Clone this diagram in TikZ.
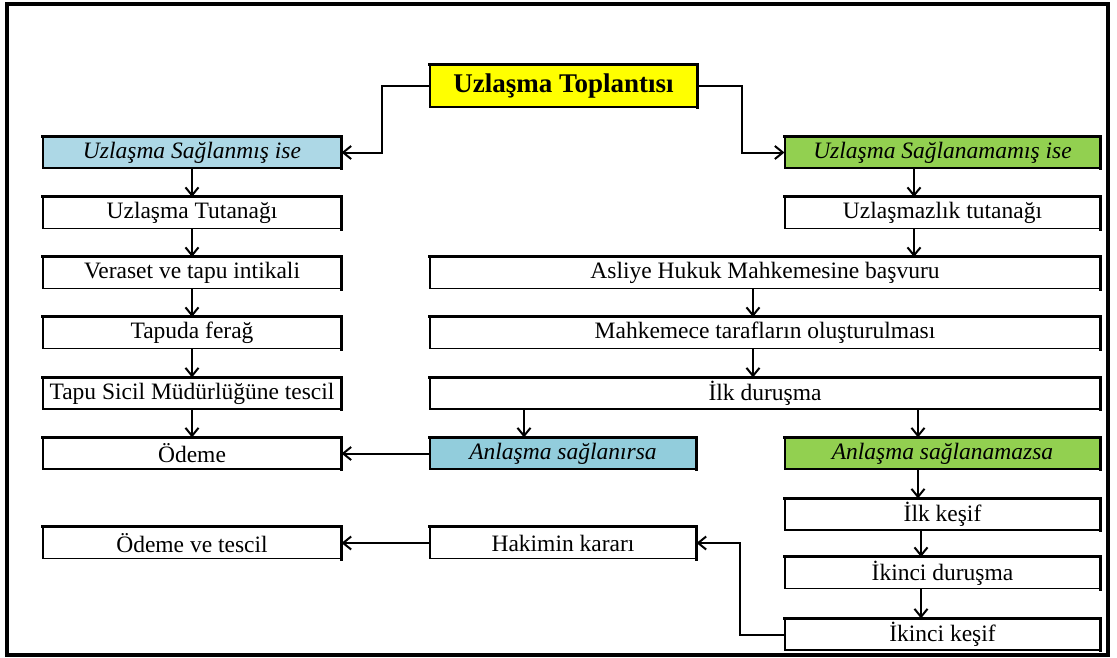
\documentclass[tikz,border=0pt]{standalone}
\usepackage{fontspec}
\setmainfont{Liberation Serif}
\usetikzlibrary{arrows.meta}
\definecolor{ylw}{HTML}{FFFF00}
\definecolor{lblue}{HTML}{ADD8E6}
\definecolor{mblue}{HTML}{92CDDC}
\definecolor{lgreen}{HTML}{92D050}
\tikzset{
  box/.style={draw=black, line width=1.1pt, inner sep=0pt, minimum height=31pt,
    font=\fontsize{23.5pt}{26pt}\selectfont, fill=white},
  leftbox/.style={box, minimum width=298pt},
  rightbox/.style={box, minimum width=315pt},
  widebox/.style={box, minimum width=670pt},
  midbox/.style={box, minimum width=266pt},
  titlebox/.style={box, fill=ylw, minimum width=267pt, minimum height=42pt,
    font=\fontsize{27pt}{30pt}\selectfont\bfseries},
  arr/.style={line width=2pt, -{Straight Barb[length=8pt,width=13pt,line width=2pt]}},
  edge/.style={line width=3pt, line cap=rect},
}
\begin{document}
\begin{tikzpicture}[x=1pt,y=-1pt]
\useasboundingbox (0,0) rectangle (1117,657);
\fill[white] (0,0) rectangle (1117,657);
\draw[line width=3.5pt] (7,4) rectangle (1108,655);

\node[titlebox] (top) at (563.5,86) {Uzlaşma Toplantısı};
\node[leftbox, fill=lblue, font=\fontsize{23.5pt}{26pt}\selectfont\itshape] (ok) at (192,152.5) {Uzlaşma Sağlanmış ise};
\node[rightbox, fill=lgreen, font=\fontsize{23.5pt}{26pt}\selectfont\itshape] (nok) at (942.5,152.5) {Uzlaşma Sağlanamamış ise};

\node[leftbox] (L1) at (192,213) {Uzlaşma Tutanağı};
\node[leftbox] (L2) at (192,273) {Veraset ve tapu intikali};
\node[leftbox] (L3) at (192,333) {Tapuda ferağ};
\node[leftbox] (L4) at (192,393.5) {Tapu Sicil Müdürlüğüne tescil};
\node[leftbox] (L5) at (192,453.5) {Ödeme};
\node[leftbox] (L6) at (192,543) {Ödeme ve tescil};

\node[rightbox] (R1) at (942.5,213) {Uzlaşmazlık tutanağı};
\node[widebox] (R2) at (765,273) {Asliye Hukuk Mahkemesine başvuru};
\node[widebox] (R3) at (765,333) {Mahkemece tarafların oluşturulması};
\node[widebox] (R4) at (765,393.5) {İlk duruşma};

\node[midbox, fill=mblue, font=\fontsize{23.5pt}{26pt}\selectfont\itshape] (A1) at (563,453.5) {Anlaşma sağlanırsa};
\node[rightbox, fill=lgreen, font=\fontsize{23.5pt}{26pt}\selectfont\itshape] (A2) at (942.5,453.5) {Anlaşma sağlanamazsa};

\node[rightbox] (K1) at (942.5,514.5) {İlk keşif};
\node[rightbox] (K2) at (942.5,573) {İkinci duruşma};
\node[rightbox] (K3) at (942.5,634.5) {İkinci keşif};
\node[midbox] (H) at (563,543) {Hakimin kararı};

% thick top and right edges
\foreach \n in {top,ok,nok,L1,L2,L3,L4,L5,L6,R1,R2,R3,R4,A1,A2,K1,K2,K3,H}
  \draw[edge] (\n.north west) -- (\n.north east) -- (\n.south east);

% guide coordinates
\coordinate (xa) at (382,0);
\coordinate (xb) at (742,0);
\coordinate (xc) at (914,0);
\coordinate (xd) at (753,0);
\coordinate (xe) at (524,0);
\coordinate (xf) at (918,0);
\coordinate (xg) at (921,0);
\coordinate (xh) at (740,0);

% connectors
\draw[arr] (top.west) -| (xa |- ok.east) -- (ok.east);
\draw[arr] (top.east) -| (xb |- nok.west) -- (nok.west);

\draw[arr] (ok.south) -- (L1.north);
\draw[arr] (L1.south) -- (L2.north);
\draw[arr] (L2.south) -- (L3.north);
\draw[arr] (L3.south) -- (L4.north);
\draw[arr] (L4.south) -- (L5.north);

\draw[arr] (nok.south -| xc) -- (R1.north -| xc);
\draw[arr] (R1.south -| xc) -- (R2.north -| xc);
\draw[arr] (R2.south -| xd) -- (R3.north -| xd);
\draw[arr] (R3.south -| xd) -- (R4.north -| xd);
\draw[arr] (R4.south -| xe) -- (A1.north -| xe);
\draw[arr] (R4.south -| xf) -- (A2.north -| xf);
\draw[arr] (A1.west) -- (L5.east);

\draw[arr] (A2.south -| xf) -- (K1.north -| xf);
\draw[arr] (K1.south -| xg) -- (K2.north -| xg);
\draw[arr] (K2.south -| xg) -- (K3.north -| xg);
\draw[arr] (K3.west) -| (xh |- H.east) -- (H.east);
\draw[arr] (H.west) -- (L6.east);
\end{tikzpicture}
\end{document}
